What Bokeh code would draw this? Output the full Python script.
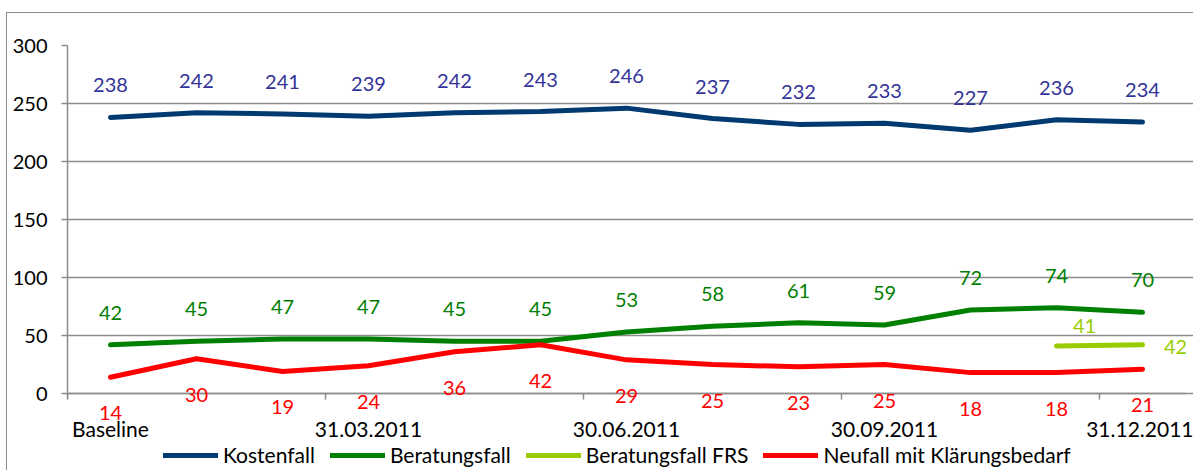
from bokeh.plotting import figure
from bokeh.models import (ColumnDataSource, LabelSet, Legend, LegendItem,
                          FixedTicker, Range1d, InlineStyleSheet)
from bokeh.core.properties import value
from bokeh.embed import file_html
from bokeh.resources import INLINE
import numpy as np

# ---- data ----
categories = ["Baseline", "", "", "31.03.2011", "", "", "30.06.2011", "", "",
              "30.09.2011", "", "", "31.12.2011"]
kostenfall = [238, 242, 241, 239, 242, 243, 246, 237, 232, 233, 227, 236, 234]
beratungsfall = [42, 45, 47, 47, 45, 45, 53, 58, 61, 59, 72, 74, 70]
beratungsfall_frs = [None] * 11 + [41, 42]
neufall = [14, 30, 19, 24, 36, 42, 29, 25, 23, 25, 18, 18, 21]
y_ticks = [0, 50, 100, 150, 200, 250, 300]

FONT = "Lato"
NUM_SIZE = "20px"
TXT_SIZE = "21px"

# layout (pixels)
CAT_W = 1118 / 13     # width of one category
EXTRA_RIGHT = 8       # room right of the last category (for labels)
FRAME_W = 1118 + EXTRA_RIGHT
PLOT_H = 348          # height of the 0..300 band
EXTRA_BELOW = 77      # room under the zero line inside the frame
Y_MAX = 300
px_per_unit = PLOT_H / Y_MAX

xs = [i + 0.5 for i in range(len(categories))]

p = figure(frame_width=FRAME_W, frame_height=PLOT_H + EXTRA_BELOW,
           output_backend="svg", toolbar_location=None,
           x_range=Range1d(0, len(categories) + EXTRA_RIGHT / CAT_W),
           y_range=Range1d(-EXTRA_BELOW / px_per_unit, Y_MAX),
           min_border_left=67, min_border_right=0, min_border_top=45,
           min_border_bottom=0)
p.outline_line_color = None
p.background_fill_color = "white"
p.border_fill_color = "white"
p.stylesheets = [InlineStyleSheet(css="""
:host::after { content: ''; position: absolute; left: 6px; top: 12px; right: 0; bottom: 0;
  border-top: 1px solid #8C8C8C; border-left: 1px solid #8C8C8C; pointer-events: none; }
""")]

def src(vals):
    return ColumnDataSource(dict(
        x=xs,
        y=[np.nan if v is None else v for v in vals],
        t=["" if v is None else str(v) for v in vals]))

s_k = src(kostenfall)
s_b = src(beratungsfall)
s_f = src(beratungsfall_frs)
s_n = src(neufall)

lw = 5
r_k = p.line("x", "y", source=s_k, line_color="#003A70", line_width=lw, line_cap="round", line_join="round")
r_b = p.line("x", "y", source=s_b, line_color="#008000", line_width=lw, line_cap="round", line_join="round")
r_f = p.line("x", "y", source=s_f, line_color="#99CC00", line_width=lw, line_cap="round", line_join="round")
r_n = p.line("x", "y", source=s_n, line_color="#FF0000", line_width=lw, line_cap="round", line_join="round")

def labels(source, color, yoff, xoff=0, align="center"):
    return LabelSet(x="x", y="y", text="t", source=source, x_offset=xoff, y_offset=yoff,
                    text_align=align, text_baseline="middle", text_color=color,
                    text_font=value(FONT), text_font_size=NUM_SIZE)

p.add_layout(labels(s_k, "#333399", 32))
p.add_layout(labels(s_b, "#008000", 32))
p.add_layout(labels(s_n, "#FF0000", -36))
s_f1 = ColumnDataSource(dict(x=[xs[11]], y=[beratungsfall_frs[11]], t=[str(beratungsfall_frs[11])]))
s_f2 = ColumnDataSource(dict(x=[xs[12]], y=[beratungsfall_frs[12]], t=[str(beratungsfall_frs[12])]))
p.add_layout(labels(s_f1, "#99CC00", 20, 28))
p.add_layout(labels(s_f2, "#99CC00", -2, 33))

# axes
grid_col = "#8C8C8C"
p.yaxis.ticker = FixedTicker(ticks=y_ticks)
p.yaxis.bounds = (-6 / px_per_unit, Y_MAX)
p.yaxis.axis_line_color = grid_col
p.yaxis.axis_line_width = 1.5
p.yaxis.major_tick_line_color = grid_col
p.yaxis.major_tick_line_width = 1.5
p.yaxis.major_tick_out = 6
p.yaxis.major_tick_in = 0
p.yaxis.minor_tick_line_color = None
p.yaxis.major_label_text_font = FONT
p.yaxis.major_label_text_font_size = NUM_SIZE
p.yaxis.major_label_text_color = "black"
p.yaxis.major_label_standoff = 14

label_pos = [xs[i] for i, c in enumerate(categories) if c]
p.xaxis.fixed_location = 0
p.xaxis.bounds = (0, len(categories))
p.xaxis.ticker = FixedTicker(ticks=label_pos, minor_ticks=[i for i, c in enumerate(categories) if c])
p.xaxis.major_label_overrides = {xs[i]: c for i, c in enumerate(categories) if c}
p.xaxis.axis_line_color = grid_col
p.xaxis.axis_line_width = 1.5
p.xaxis.major_tick_line_color = None
p.xaxis.major_tick_out = 0
p.xaxis.major_tick_in = 0
p.xaxis.minor_tick_line_color = grid_col
p.xaxis.minor_tick_line_width = 1.5
p.xaxis.minor_tick_out = 6
p.xaxis.minor_tick_in = 0
p.xaxis.major_label_text_font = FONT
p.xaxis.major_label_text_font_size = TXT_SIZE
p.xaxis.major_label_text_color = "black"
p.xaxis.major_label_standoff = 16

p.xgrid.visible = False
p.ygrid.ticker = FixedTicker(ticks=y_ticks)
p.ygrid.bounds = (0, len(categories))
p.ygrid.grid_line_color = grid_col
p.ygrid.grid_line_width = 1.5

legend = Legend(items=[
    LegendItem(label="Kostenfall", renderers=[r_k]),
    LegendItem(label="Beratungsfall", renderers=[r_b]),
    LegendItem(label="Beratungsfall FRS", renderers=[r_f]),
    LegendItem(label="Neufall mit Klärungsbedarf", renderers=[r_n]),
], orientation="horizontal", location=(96, 3), border_line_color=None,
    background_fill_alpha=0, glyph_width=55, glyph_height=20, label_standoff=5,
    spacing=15, padding=0, margin=0, label_text_font=FONT,
    label_text_font_size=TXT_SIZE, label_text_color="black")
p.add_layout(legend, "center")

open("out.html", "w").write(file_html(p, INLINE))
